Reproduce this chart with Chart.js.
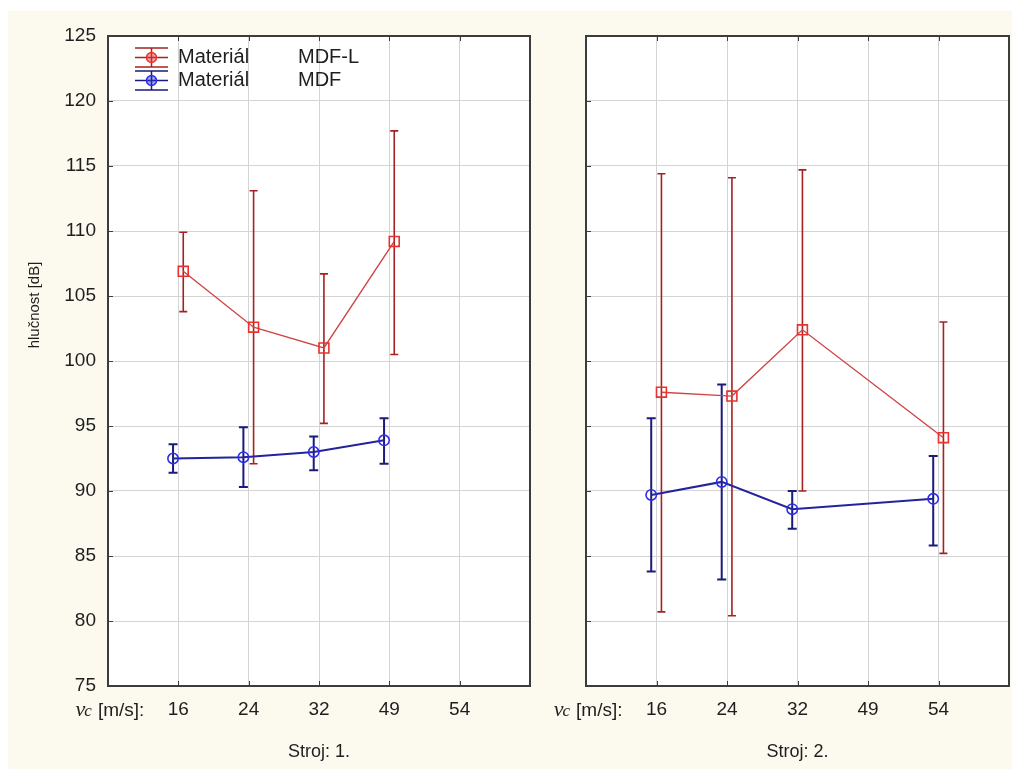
<!DOCTYPE html>
<html>
<head>
<meta charset="utf-8">
<title>hlučnost</title>
<script src="https://cdn.jsdelivr.net/npm/chart.js@4.4.1/dist/chart.umd.min.js"></script>
<style>
  html, body { margin: 0; padding: 0; background: #fff; }
  #wrap { position: relative; width: 1012px; height: 769px; overflow: hidden; }
  #paper { position: absolute; left: 8px; top: 11px; right: 0; bottom: 0; background: #fcf9ef; }
  canvas { position: absolute; top: 0; }
  #c1 { left: 0; }
  #c2 { left: 540px; }
</style>
</head>
<body>
<div id="wrap">
  <div id="paper"></div>
  <canvas id="c1" width="542" height="769"></canvas>
  <canvas id="c2" width="481" height="769"></canvas>
</div>
<script>
// cutting speed categories (x axis)
const speeds = ['16', '24', '32', '49', '54'];
const materials = ['MDF-L', 'MDF'];
const factorName = 'Materiál';
const machineNames = ['Stroj: 1.', 'Stroj: 2.'];
const yTitle = 'hlučnost [dB]';
const yMin = 75, yMax = 125, yStep = 5;

// Stroj 1: means and error-bar limits [dB]
const mdfL_s1      = [106.9, 102.6, 101.0, 109.2, null];
const mdfL_s1_low  = [103.8,  92.1,  95.2, 100.5, null];
const mdfL_s1_high = [109.9, 113.1, 106.7, 117.7, null];
const mdf_s1       = [ 92.5,  92.6,  93.0,  93.9, null];
const mdf_s1_low   = [ 91.4,  90.3,  91.6,  92.1, null];
const mdf_s1_high  = [ 93.6,  94.9,  94.2,  95.6, null];

// Stroj 2
const mdfL_s2      = [ 97.6,  97.3, 102.4, null,  94.1];
const mdfL_s2_low  = [ 80.7,  80.4,  90.0, null,  85.2];
const mdfL_s2_high = [114.4, 114.1, 114.7, null, 103.0];
const mdf_s2       = [ 89.7,  90.7,  88.6, null,  89.4];
const mdf_s2_low   = [ 83.8,  83.2,  87.1, null,  85.8];
const mdf_s2_high  = [ 95.6,  98.2,  90.0, null,  92.7];

const sans = "'Liberation Sans', Arial, sans-serif";
const serifItalic = "'Liberation Serif', 'DejaVu Serif', serif";
const textColor = '#1e1e1e';
const gridColor = '#d4d4d4';
const frameColor = '#3c3c3c';

// per-material look; small horizontal dodge so the bars don't overlap
const looks = [
  { line: '#d04444', point: '#e8322f', fill: 'rgba(232,50,47,0.45)', err: '#a52222',
    width: 1.4, errWidth: 1.6, cap: 4, style: 'rect', radius: 7, shift: 0.07 },
  { line: '#23239c', point: '#2d2de6', fill: 'rgba(45,45,230,0.45)', err: '#1b1b7c',
    width: 2, errWidth: 2, cap: 4.5, style: 'circle', radius: 5.2, shift: -0.075 }
];

function points(mean, low, high, shift) {
  const out = [];
  mean.forEach((m, i) => {
    if (m === null) return;
    out.push({ x: i + 1 + shift, y: m, lo: low[i], hi: high[i] });
  });
  return out;
}

function dataset(k, mean, low, high) {
  const L = looks[k];
  return {
    label: factorName + ' ' + materials[k],
    data: points(mean, low, high, L.shift),
    borderColor: L.line,
    borderWidth: L.width,
    pointStyle: L.style,
    pointRadius: L.radius,
    pointBorderColor: L.point,
    pointBorderWidth: 1.6,
    pointBackgroundColor: 'rgba(255,255,255,0)',
    tension: 0,
    fill: false
  };
}

// white plot area on the cream page
const plotFill = {
  id: 'plotFill',
  beforeDraw(chart) {
    const { ctx, chartArea: a } = chart;
    ctx.save();
    ctx.fillStyle = '#ffffff';
    ctx.fillRect(a.left, a.top, a.right - a.left, a.bottom - a.top);
    ctx.restore();
  }
};

// whiskers drawn from each point's lo/hi through the y scale
const errorBars = {
  id: 'errorBars',
  beforeDatasetsDraw(chart) {
    const ctx = chart.ctx, y = chart.scales.y;
    chart.data.datasets.forEach((ds, k) => {
      const L = looks[k];
      const meta = chart.getDatasetMeta(k);
      ctx.save();
      ctx.strokeStyle = L.err;
      ctx.lineWidth = L.errWidth;
      meta.data.forEach((pt, i) => {
        const raw = ds.data[i];
        const yl = y.getPixelForValue(raw.lo), yh = y.getPixelForValue(raw.hi);
        ctx.beginPath();
        ctx.moveTo(pt.x, yl); ctx.lineTo(pt.x, yh);
        ctx.moveTo(pt.x - L.cap, yl); ctx.lineTo(pt.x + L.cap, yl);
        ctx.moveTo(pt.x - L.cap, yh); ctx.lineTo(pt.x + L.cap, yh);
        ctx.stroke();
      });
      ctx.restore();
    });
  }
};

// box around the plot area with short inward ticks
const frame = {
  id: 'frame',
  beforeDatasetsDraw(chart) {
    const { ctx, chartArea: a, scales: { x, y } } = chart;
    ctx.save();
    ctx.strokeStyle = frameColor;
    ctx.lineWidth = 1;
    ctx.beginPath();
    x.ticks.forEach(t => {
      if (t.value <= x.min || t.value >= x.max) return;
      const px = Math.round(x.getPixelForValue(t.value)) + 0.5;
      ctx.moveTo(px, a.top); ctx.lineTo(px, a.top + 5);
      ctx.moveTo(px, a.bottom); ctx.lineTo(px, a.bottom - 5);
    });
    y.ticks.forEach(t => {
      const py = Math.round(y.getPixelForValue(t.value)) + 0.5;
      ctx.moveTo(a.left, py); ctx.lineTo(a.left + 5, py);
    });
    ctx.stroke();
    ctx.lineWidth = 2;
    ctx.strokeRect(a.left, a.top, a.right - a.left, a.bottom - a.top);
    ctx.restore();
  }
};

// "vc [m/s]:" caption in front of the speed labels
const speedCaption = {
  id: 'speedCaption',
  afterDraw(chart) {
    const { ctx, scales: { x } } = chart;
    const end = x.getPixelForValue(1) - 34;
    const base = x.top + 30;
    ctx.save();
    ctx.fillStyle = textColor;
    ctx.textBaseline = 'alphabetic';
    const fv = 'italic 22px ' + serifItalic;
    const fc = 'italic 17px ' + serifItalic;
    const fr = '19px ' + sans;
    ctx.font = fv; const wv = ctx.measureText('v').width;
    ctx.font = fc; const wc = ctx.measureText('c').width;
    ctx.font = fr; const wr = ctx.measureText('[m/s]:').width;
    let px = end - (wv + wc + 5 + wr);
    ctx.font = fv; ctx.fillText('v', px, base); px += wv - 1;
    ctx.font = fc; ctx.fillText('c', px, base); px += wc + 6;
    ctx.font = fr; ctx.fillText('[m/s]:', px, base);
    ctx.restore();
  }
};

// legend with whisker icons in the upper-left corner of the first panel
const whiskerLegend = {
  id: 'whiskerLegend',
  afterDraw(chart) {
    const { ctx, chartArea: a } = chart;
    ctx.save();
    looks.forEach((L, k) => {
      const cy = a.top + 21.5 + k * 23;
      const x0 = a.left + 27, x1 = a.left + 60, xm = (x0 + x1) / 2;
      ctx.strokeStyle = L.err;
      ctx.lineWidth = 1.5;
      ctx.beginPath();
      ctx.moveTo(x0, cy - 9.5); ctx.lineTo(x1, cy - 9.5);
      ctx.moveTo(x0, cy + 9.5); ctx.lineTo(x1, cy + 9.5);
      ctx.moveTo(x0, cy); ctx.lineTo(x1, cy);
      ctx.moveTo(xm, cy - 9.5); ctx.lineTo(xm, cy + 9.5);
      ctx.stroke();
      ctx.fillStyle = L.fill;
      ctx.strokeStyle = L.point;
      ctx.beginPath();
      ctx.arc(xm, cy, 5, 0, Math.PI * 2);
      ctx.fill(); ctx.stroke();
      ctx.fillStyle = textColor;
      ctx.font = '20px ' + sans;
      ctx.textBaseline = 'middle';
      ctx.fillText(factorName, a.left + 70, cy);
      ctx.fillText(materials[k], a.left + 190, cy);
    });
    ctx.restore();
  }
};

const yAxisTitle = {
  id: 'yAxisTitle',
  afterDraw(chart) {
    const ctx = chart.ctx;
    ctx.save();
    ctx.translate(35, 305);
    ctx.rotate(-Math.PI / 2);
    ctx.fillStyle = textColor;
    ctx.font = '15px ' + sans;
    ctx.textAlign = 'center';
    ctx.textBaseline = 'middle';
    ctx.fillText(yTitle, 0, 0);
    ctx.restore();
  }
};

function buildChart(canvasId, machine, series, first) {
  const extra = first ? [whiskerLegend, yAxisTitle] : [];
  return new Chart(document.getElementById(canvasId), {
    type: 'line',
    data: { datasets: series },
    options: {
      responsive: false,
      animation: false,
      events: [],
      layout: { padding: { top: 36, right: 0, bottom: 0, left: 0 } },
      plugins: { legend: { display: false }, tooltip: { enabled: false } },
      scales: {
        x: {
          type: 'linear',
          min: 0,
          max: speeds.length + 1,
          afterBuildTicks: s => {
            s.ticks = [];
            for (let v = 0; v <= speeds.length + 1; v++) s.ticks.push({ value: v });
          },
          ticks: {
            callback: v => speeds[v - 1] || '',
            autoSkip: false,
            maxRotation: 0,
            padding: 12,
            color: textColor,
            font: { family: sans, size: 19 }
          },
          grid: { color: gridColor, drawTicks: false },
          border: { display: false },
          title: {
            display: true,
            text: machineNames[machine],
            color: textColor,
            font: { family: sans, size: 18 },
            padding: { top: 0, bottom: 6 }
          },
          afterFit: s => { s.height = 83; }
        },
        y: {
          min: yMin,
          max: yMax,
          ticks: {
            stepSize: yStep,
            display: first,
            padding: 12,
            color: textColor,
            font: { family: sans, size: 19 }
          },
          grid: { color: gridColor, drawTicks: false },
          border: { display: false },
          afterFit: s => { s.width = first ? 108 : 46; }
        }
      }
    },
    plugins: [plotFill, frame, errorBars, speedCaption].concat(extra)
  });
}

buildChart('c1', 0, [
  dataset(0, mdfL_s1, mdfL_s1_low, mdfL_s1_high),
  dataset(1, mdf_s1, mdf_s1_low, mdf_s1_high)
], true);

buildChart('c2', 1, [
  dataset(0, mdfL_s2, mdfL_s2_low, mdfL_s2_high),
  dataset(1, mdf_s2, mdf_s2_low, mdf_s2_high)
], false);
</script>
</body>
</html>
